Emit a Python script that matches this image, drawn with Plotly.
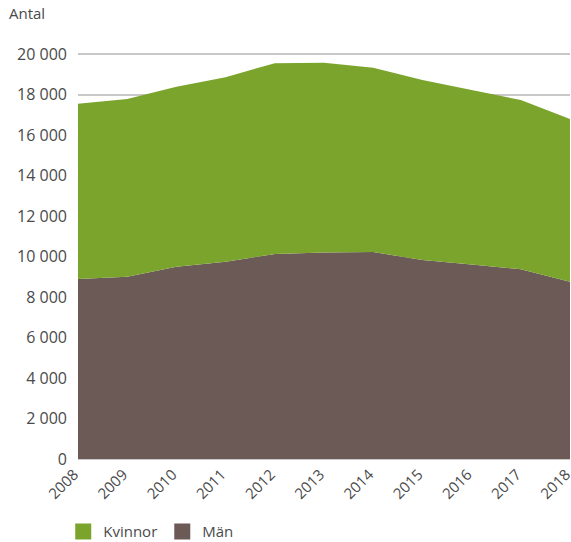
import plotly.graph_objects as go

years = [2008, 2009, 2010, 2011, 2012, 2013, 2014, 2015, 2016, 2017, 2018]
man = [8890, 9000, 9500, 9740, 10120, 10200, 10220, 9830, 9600, 9370, 8760]
kvinnor = [8660, 8780, 8880, 9120, 9430, 9370, 9100, 8890, 8620, 8360, 8030]
ytick_vals = [0, 2000, 4000, 6000, 8000, 10000, 12000, 14000, 16000, 18000, 20000]
ytick_text = ["0", "2 000", "4 000", "6 000", "8 000", "10 000", "12 000",
              "14 000", "16 000", "18 000", "20 000"]

GREEN = "#7ba42d"
BROWN = "#6b5a55"
FONT = "Open Sans"
TXT = "#4a4a4a"

fig = go.Figure()
fig.add_trace(go.Scatter(x=years, y=man, stackgroup="one", mode="none",
                         fillcolor=BROWN, name="Män", showlegend=False))
fig.add_trace(go.Scatter(x=years, y=kvinnor, stackgroup="one", mode="none",
                         fillcolor=GREEN, name="Kvinnor", showlegend=False))
# legend entries
fig.add_trace(go.Scatter(x=[None], y=[None], mode="markers", name="Kvinnor",
                         marker=dict(symbol="square", size=16, color=GREEN)))
fig.add_trace(go.Scatter(x=[None], y=[None], mode="markers", name="Män",
                         marker=dict(symbol="square", size=16, color=BROWN)))

fig.update_layout(
    width=571, height=542,
    margin=dict(l=78, r=1, t=50, b=83),
    paper_bgcolor="white", plot_bgcolor="white",
    font=dict(family=FONT, size=15, color=TXT),
    legend=dict(orientation="h", x=-0.03, xanchor="left",
                yref="container", y=0.019, yanchor="middle",
                traceorder="normal", font=dict(size=15, color=TXT),
                itemwidth=30, tracegroupgap=0),
    annotations=[dict(text="Antal", xref="paper", yref="paper", x=-0.145, y=1.06,
                      xanchor="left", yanchor="bottom", showarrow=False,
                      font=dict(size=15, color=TXT))],
)
fig.update_xaxes(range=[2008, 2018], tickvals=years, ticktext=[str(y) for y in years],
                 tickangle=-45, showgrid=False, zeroline=False,
                 showline=True, linecolor="#c8c8c8", linewidth=1,
                 ticks="", automargin=False, ticklabeloverflow="allow",
                 ticklabelshift=-4,
                 tickfont=dict(size=15, color=TXT))
fig.update_yaxes(range=[0, 20200], tickvals=ytick_vals, ticktext=ytick_text,
                 showgrid=True, gridcolor="#c8c8c8", gridwidth=1.5, zeroline=False,
                 showline=False, ticks="", ticklabelstandoff=10, automargin=False,
                 tickfont=dict(size=16, color=TXT))

fig.write_html("out.html", config={"displayModeBar": False},
               post_script="document.body.style.margin='0';")
